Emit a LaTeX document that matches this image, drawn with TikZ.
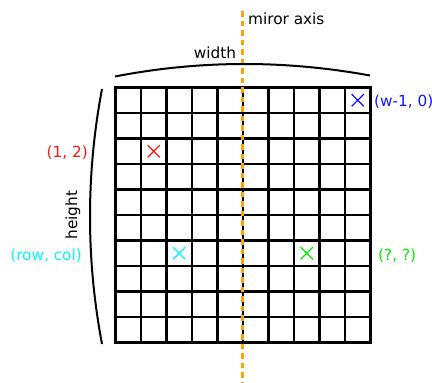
\documentclass[tikz,border=0pt]{standalone}
\usepackage{fontspec}
\setmainfont{DejaVu Sans}
\usetikzlibrary{shapes.misc,positioning}
\definecolor{axisorange}{HTML}{FFA500}
\definecolor{markred}{RGB}{255,20,20}
\definecolor{markblue}{RGB}{20,20,255}
\definecolor{markcyan}{RGB}{0,255,255}
\definecolor{markgreen}{RGB}{0,240,0}

\begin{document}
\begin{tikzpicture}[
    x=1pt, y=-1pt,
    every node/.style={font=\fontsize{15.3}{18}\selectfont, inner sep=0pt},
    cell/.style={draw=black, line width=2.4pt, line cap=rect},
    crossmark/.style={cross out, draw, line width=1.2pt,
      minimum size=11pt, inner sep=0pt},
    bracket/.style={line width=2pt},
    mirror/.style={draw=axisorange, line width=3pt,
      dash pattern=on 5.5pt off 4pt},
    coordlabel/.style={font=\fontsize{15.3}{18}\selectfont}
  ]

    \useasboundingbox (0,0) rectangle (432,383);

    % 10 x 10 grid
    \foreach \k in {0,...,10} {
      \draw[cell] (115.5+25.5*\k, 87.5) -- (115.5+25.5*\k, 342.5);
      \draw[cell] (115.5, 87.5+25.5*\k) -- (370.5, 87.5+25.5*\k);
    }

    % mirror axis
    \coordinate (axtop) at (242.5, 11);
    \coordinate (axbot) at (242.5, 383);
    \draw[mirror] (axtop) -- (axbot);
    \node[anchor=west] (axlabel) at (248, 19) {miror axis};

    % width / height brackets
    \coordinate (wl) at (115, 76.5);
    \coordinate (wr) at (370, 75.5);
    \draw[bracket] (wl) .. controls (200, 60) and (285, 60) .. (wr);
    \node (wlabel) at (215, 53) {width};

    \coordinate (ht) at (102, 89);
    \coordinate (hb) at (102, 344);
    \draw[bracket] (ht) .. controls (86, 174) and (86, 259) .. (hb);
    \node[rotate=90] (hlabel) at (73, 215) {height};

    % marked cells
    \node[crossmark, draw=markred] (xred) at (153.75, 151.25) {};
    \node[crossmark, draw=markblue] (xblue) at (357.75, 100.25) {};
    \node[crossmark, draw=markcyan] (xcyan) at (179.25, 253.25) {};
    \node[crossmark, draw=markgreen] (xgreen) at (306.75, 253.25) {};

    \node[coordlabel, text=markred, anchor=east] (lred) at (88, 153) {(1, 2)};
    \node[coordlabel, text=markblue, anchor=west] (lblue) at (374, 102) {(w-1, 0)};
    \node[coordlabel, text=markcyan, anchor=east] (lcyan) at (82, 256) {(row, col)};
    \node[coordlabel, text=markgreen, anchor=west] (lgreen) at (378, 256) {(?, ?)};

  \end{tikzpicture}
\end{document}
